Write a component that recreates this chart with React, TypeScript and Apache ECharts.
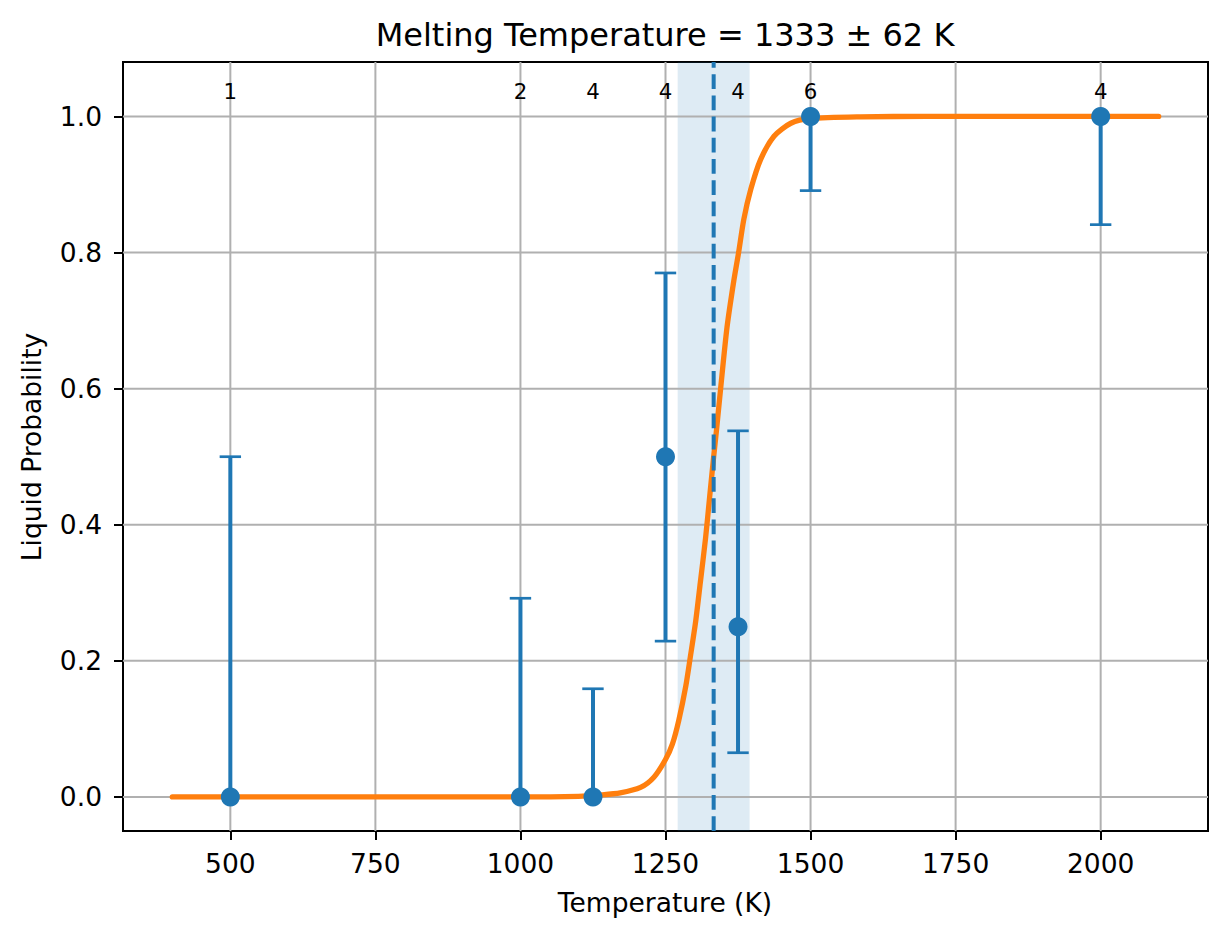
import React, { useEffect, useRef } from "react";
import * as echarts from "echarts";

// ---- data ----
const temperatures = [500, 1000, 1125, 1250, 1375, 1500, 2000];
const liquidProb = [0, 0, 0, 0.5, 0.25, 1, 1];
const errLow = [0, 0, 0, 0.229, 0.065, 0.891, 0.841];
const errHigh = [0.5, 0.292, 0.159, 0.77, 0.538, 1, 1];
const sampleCounts = [1, 2, 4, 4, 4, 6, 4];

// fitted curve
const fitT = [400, 1000, 1100, 1138, 1172, 1207, 1230, 1250, 1262, 1273, 1285, 1293, 1302, 1310, 1319, 1326, 1333, 1338, 1345, 1356, 1368, 1376, 1385, 1397, 1414, 1437, 1466, 1500, 1586, 1700, 2100];
const fitP = [0, 0, 0.001, 0.003, 0.006, 0.014, 0.029, 0.055, 0.078, 0.113, 0.163, 0.207, 0.258, 0.315, 0.38, 0.44, 0.5, 0.54, 0.6, 0.69, 0.76, 0.8, 0.849, 0.893, 0.937, 0.971, 0.99, 0.997, 0.9995, 1, 1];

const meltT = 1333;
const meltErr = 62;

const xTicks = [500, 750, 1000, 1250, 1500, 1750, 2000];
const yTicks = [0, 0.2, 0.4, 0.6, 0.8, 1.0];

const X_MIN = 315;
const X_MAX = 2185;
const Y_MIN = -0.05;
const Y_MAX = 1.08;

const FONT = "DejaVu Sans";
const BLUE = "#1f77b4";
const ORANGE = "#ff7f0e";
const GRID = "#b0b0b0";

export default function App() {
  const ref = useRef<HTMLDivElement>(null);

  useEffect(() => {
    if (!ref.current) return;
    const chart = echarts.init(ref.current, null, { renderer: "svg" });

    const option: any = {
      animation: false,
      grid: {
        left: 123,
        right: 19,
        top: 62,
        bottom: 108,
        show: true,
        borderColor: "#000",
        borderWidth: 2,
        backgroundColor: "transparent",
      },
      xAxis: {
        type: "value",
        min: X_MIN,
        max: X_MAX,
        axisLine: { show: true, onZero: false, lineStyle: { color: "#000", width: 2 } },
        axisTick: { show: true, customValues: xTicks, length: 9, lineStyle: { color: "#000", width: 2 } },
        axisLabel: {
          customValues: xTicks,
          margin: 19,
          fontSize: 26.5,
          color: "#000",
          fontFamily: FONT,
          formatter: (v: number) => String(Math.round(v)),
        },
        splitLine: { show: false },
      },
      yAxis: {
        type: "value",
        min: Y_MIN,
        max: Y_MAX,
        axisLine: { show: true, onZero: false, lineStyle: { color: "#000", width: 2 } },
        axisTick: { show: true, customValues: yTicks, length: 9, lineStyle: { color: "#000", width: 2 } },
        axisLabel: {
          customValues: yTicks,
          margin: 21,
          fontSize: 26.5,
          color: "#000",
          fontFamily: FONT,
          formatter: (v: number) => v.toFixed(1),
        },
        splitLine: { show: false },
      },
      series: [
        {
          name: "band",
          type: "custom",
          z: 1,
          silent: true,
          data: [[meltT - meltErr, meltT + meltErr]],
          encode: { x: [0, 1] },
          renderItem: (params: any, api: any) => {
            const cs = params.coordSys;
            const a = api.coord([api.value(0), 0]);
            const b = api.coord([api.value(1), 0]);
            return {
              type: "rect",
              shape: { x: a[0], y: cs.y, width: b[0] - a[0], height: cs.height },
              style: { fill: BLUE, opacity: 0.15 },
            };
          },
        },
        {
          name: "xgrid",
          type: "custom",
          z: 2,
          silent: true,
          data: xTicks.map((v) => [v, 0]),
          renderItem: (params: any, api: any) => {
            const cs = params.coordSys;
            const p = api.coord([api.value(0), 0]);
            return {
              type: "line",
              shape: { x1: p[0], y1: cs.y, x2: p[0], y2: cs.y + cs.height },
              style: { stroke: GRID, lineWidth: 2 },
            };
          },
        },
        {
          name: "ygrid",
          type: "custom",
          z: 2,
          silent: true,
          data: yTicks.map((v) => [1000, v]),
          renderItem: (params: any, api: any) => {
            const cs = params.coordSys;
            const p = api.coord([api.value(0), api.value(1)]);
            return {
              type: "line",
              shape: { x1: cs.x, y1: p[1], x2: cs.x + cs.width, y2: p[1] },
              style: { stroke: GRID, lineWidth: 2 },
            };
          },
        },
        {
          name: "fit",
          type: "line",
          z: 3,
          silent: true,
          data: fitT.map((t, i) => [t, fitP[i]]),
          showSymbol: false,
          symbol: "none",
          smooth: 0.25,
          lineStyle: { color: ORANGE, width: 5.3, cap: "round", join: "round" },
        },
        {
          name: "errorbars",
          type: "custom",
          z: 4,
          silent: true,
          data: temperatures.map((t, i) => [t, errLow[i], errHigh[i], liquidProb[i]]),
          renderItem: (params: any, api: any) => {
            const t = api.value(0);
            const lo = api.value(1);
            const hi = api.value(2);
            const pv = api.value(3);
            const pLo = api.coord([t, lo]);
            const pHi = api.coord([t, hi]);
            const children: any[] = [
              {
                type: "line",
                shape: { x1: pLo[0], y1: pLo[1], x2: pHi[0], y2: pHi[1] },
                style: { stroke: BLUE, lineWidth: 4 },
              },
            ];
            const capHalf = 10.7;
            if (lo !== pv) {
              children.push({
                type: "line",
                shape: { x1: pLo[0] - capHalf, y1: pLo[1], x2: pLo[0] + capHalf, y2: pLo[1] },
                style: { stroke: BLUE, lineWidth: 2.7 },
              });
            }
            if (hi !== pv) {
              children.push({
                type: "line",
                shape: { x1: pHi[0] - capHalf, y1: pHi[1], x2: pHi[0] + capHalf, y2: pHi[1] },
                style: { stroke: BLUE, lineWidth: 2.7 },
              });
            }
            return { type: "group", children };
          },
        },
        {
          name: "points",
          type: "scatter",
          z: 5,
          silent: true,
          symbol: "circle",
          symbolSize: 19,
          itemStyle: { color: BLUE, opacity: 1 },
          data: temperatures.map((t, i) => [t, liquidProb[i]]),
        },
        {
          name: "meltLine",
          type: "custom",
          z: 6,
          silent: true,
          data: [[meltT, 0]],
          renderItem: (params: any, api: any) => {
            const cs = params.coordSys;
            const p = api.coord([api.value(0), 0]);
            return {
              type: "line",
              shape: { x1: p[0], y1: cs.y + cs.height, x2: p[0], y2: cs.y },
              style: { stroke: BLUE, lineWidth: 4, lineDash: [14.8, 6.4] },
            };
          },
        },
        {
          name: "counts",
          type: "custom",
          z: 6,
          silent: true,
          data: temperatures.map((t, i) => [t, 1.036, sampleCounts[i]]),
          renderItem: (params: any, api: any) => {
            const p = api.coord([api.value(0), api.value(1)]);
            return {
              type: "text",
              x: p[0],
              y: p[1],
              style: {
                text: String(api.value(2)),
                fontSize: 21.3,
                fontFamily: FONT,
                fill: "#000",
                align: "center",
                verticalAlign: "middle",
              },
            };
          },
        },
      ],
      graphic: [
        {
          type: "text",
          x: 665,
          y: 35,
          silent: true,
          style: {
            text: `Melting Temperature = ${meltT} ± ${meltErr} K`,
            fontSize: 32,
            fontFamily: FONT,
            fill: "#000",
            align: "center",
            verticalAlign: "middle",
          },
        },
        {
          type: "text",
          x: 665,
          y: 902.5,
          silent: true,
          style: {
            text: "Temperature (K)",
            fontSize: 26.5,
            fontFamily: FONT,
            fill: "#000",
            align: "center",
            verticalAlign: "middle",
          },
        },
        {
          type: "text",
          x: 31,
          y: 447,
          rotation: Math.PI / 2,
          silent: true,
          style: {
            text: "Liquid Probability",
            fontSize: 26.5,
            fontFamily: FONT,
            fill: "#000",
            align: "center",
            verticalAlign: "middle",
          },
        },
      ],
    };

    chart.setOption(option);
    return () => {
      chart.dispose();
    };
  }, []);

  return (
    <div
      ref={ref}
      style={{ position: "absolute", left: 0, top: 0, width: 1227, height: 939, background: "#fff" }}
    />
  );
}
